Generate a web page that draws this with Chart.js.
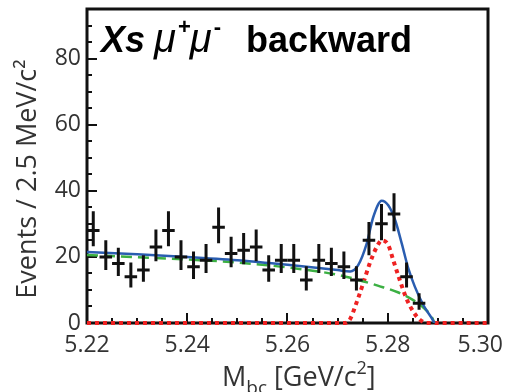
<!DOCTYPE html>
<html>
<head>
<meta charset="utf-8">
<script src="https://cdn.jsdelivr.net/npm/chart.js@4.4.0/dist/chart.umd.min.js"></script>
<style>
body{margin:0;background:#fff;}
</style>
</head>
<body>
<canvas id="graf" width="506" height="392"></canvas>
<script>
// Mbc bin centres (2.5 MeV bins) and event counts
var mbc = [5.22125,5.22375,5.22625,5.22875,5.23125,5.23375,5.23625,5.23875,5.24125,5.24375,
           5.24625,5.24875,5.25125,5.25375,5.25625,5.25875,5.26125,5.26375,5.26625,5.26875,
           5.27125,5.27375,5.27625,5.27875,5.28125,5.28375,5.28625];
var events = [28,20,18,14,16,23,28,20,17,19,
              29,21,22,23,16,19,19,13,19,18,
              17,13,25,30,33,14,6];
var binHalf = 0.00125;

// total fit (blue)
var fitX = [5.22,5.23,5.24,5.25,5.26,5.27,5.2725,5.2741,5.2758,5.2771,5.2788,5.2801,5.2815,5.2828,5.2841,5.2854,5.2871,5.2888,5.2893];
var fitY = [21.5,20.8,20.0,19.0,17.6,16.0,15.6,17.5,24,32,37,35.6,31,24,16.5,11,5.4,1.4,0];

// background (green dashed)
var bkgX = [5.22,5.23,5.24,5.25,5.26,5.27,5.274,5.278,5.282,5.285,5.2872,5.2888,5.2893];
var bkgY = [20.6,19.9,19.2,18.3,16.8,14.6,13.1,11.3,9.3,7,4.5,1.8,0];

// signal (red dotted)
var sigX = [5.22,5.2715,5.2725,5.2735,5.2751,5.2764,5.2778,5.2788,5.2801,5.2811,5.2824,5.2837,5.2851,5.2864,5.2878,5.30];
var sigY = [0,0,1.2,5,12,18,23,25,23.6,19,13,7.5,3.4,1,0,0];

var xTicks = [5.22,5.24,5.26,5.28,5.30];
var yTicks = [0,20,40,60,80];

function pts(xs, ys){
    return xs.map(function(x,i){ return {x:x, y:ys[i]}; });
}

var framePlugin = {
    id:'frame',
    beforeDatasetsDraw:function(chart){
        var c = chart.ctx, a = chart.chartArea;
        var xs = chart.scales.x, ys = chart.scales.y;
        c.save();
        c.strokeStyle = '#111';
        c.lineWidth = 2;
        // minor + major ticks, pointing inwards
        for(var v=5.22; v<=5.3001; v+=0.005){
            var px = Math.round(xs.getPixelForValue(v));
            var major = Math.abs((v-5.22)/0.02 - Math.round((v-5.22)/0.02)) < 1e-6;
            c.beginPath();
            c.moveTo(px, a.bottom);
            c.lineTo(px, a.bottom - (major?10:5));
            c.stroke();
        }
        for(var w=0; w<=95; w+=5){
            var py = Math.round(ys.getPixelForValue(w));
            c.beginPath();
            c.moveTo(a.left, py);
            c.lineTo(a.left + (w%20===0?10:5), py);
            c.stroke();
        }
        c.lineWidth = 3;
        c.strokeRect(a.left, a.top, a.right-a.left, a.bottom-a.top);
        c.restore();
    },
    afterDatasetsDraw:function(chart){
        var c = chart.ctx;
        var xs = chart.scales.x, ys = chart.scales.y;
        c.save();
        c.strokeStyle = '#111';
        c.lineWidth = 3;
        for(var i=0;i<mbc.length;i++){
            var n = events[i];
            var up = 0.5 + Math.sqrt(n+0.25), dn = -0.5 + Math.sqrt(n+0.25);
            var px = xs.getPixelForValue(mbc[i]);
            var py = ys.getPixelForValue(n);
            c.beginPath();
            c.moveTo(px, ys.getPixelForValue(n+up));
            c.lineTo(px, ys.getPixelForValue(n-dn));
            c.moveTo(xs.getPixelForValue(mbc[i]-binHalf), py);
            c.lineTo(xs.getPixelForValue(mbc[i]+binHalf), py);
            c.stroke();
        }
        c.restore();
    },
    afterDraw:function(chart){
        var c = chart.ctx;
        var xs = chart.scales.x;
        c.save();
        // x tick labels, last one kept inside the canvas
        c.fillStyle = '#333';
        c.font = '23px "Open Sans"';
        c.textBaseline = 'alphabetic';
        c.textAlign = 'left';
        xTicks.forEach(function(v){
            var s = v.toFixed(2);
            var wd = c.measureText(s).width;
            var lx = xs.getPixelForValue(v) - wd/2;
            if(lx + wd > 503) lx = 503 - wd;
            c.fillText(s, lx, 352);
        });

        c.fillStyle = '#000';
        var x = 101, base = 52;
        c.font = 'italic bold 36px "Liberation Sans"';
        c.fillText('Xs', x, base);
        x = 154;
        c.font = 'italic 40px "Liberation Sans"';
        c.fillText('\u03bc', x, base); x += c.measureText('\u03bc').width + 2;
        c.font = 'bold 22px "Liberation Sans"';
        c.fillText('+', x, base-18); x += c.measureText('+').width - 1;
        c.font = 'italic 40px "Liberation Sans"';
        c.fillText('\u03bc', x, base); x += c.measureText('\u03bc').width + 2;
        c.font = 'bold 22px "Liberation Sans"';
        c.fillText('-', x, base-18);
        c.font = 'bold 36px "Liberation Sans"';
        c.fillText('backward', 246, base);

        // axis titles
        c.fillStyle = '#333';
        c.font = '27px "Open Sans"';
        var xx = 222, yb = 386;
        c.fillText('M', xx, yb); xx += c.measureText('M').width;
        c.font = '19px "Open Sans"';
        c.fillText('bc', xx, yb+8); xx += c.measureText('bc').width;
        c.font = '27px "Open Sans"';
        c.fillText(' [GeV/c', xx, yb); xx += c.measureText(' [GeV/c').width;
        c.font = '18px "Open Sans"';
        c.fillText('2', xx, yb-12); xx += c.measureText('2').width;
        c.font = '27px "Open Sans"';
        c.fillText(']', xx, yb);

        c.translate(36, 179);
        c.rotate(-Math.PI/2);
        c.textAlign = 'center';
        c.font = '27px "Open Sans"';
        c.fillText('Events / 2.5 MeV/c\u00b2', 0, 0);
        c.restore();
    }
};

var graf = new Chart(document.getElementById('graf'), {
    type:'scatter',
    data:{
        datasets:[
            {
                label:'fit',
                data:pts(fitX, fitY),
                showLine:true,
                borderColor:'#2a5db0',
                borderWidth:2.5,
                pointRadius:0,
                cubicInterpolationMode:'monotone',
                order:1
            },
            {
                label:'background',
                data:pts(bkgX, bkgY),
                showLine:true,
                borderColor:'#3cb043',
                borderWidth:2.5,
                borderDash:[11,6],
                pointRadius:0,
                cubicInterpolationMode:'monotone',
                order:2
            },
            {
                label:'signal',
                data:pts(sigX, sigY),
                showLine:true,
                borderColor:'#ee2222',
                borderWidth:4,
                borderDash:[4,4],
                pointRadius:0,
                cubicInterpolationMode:'monotone',
                clip:false,
                order:3
            }
        ]
    },
    options:{
        responsive:false,
        animation:false,
        layout:{padding:{left:0, top:9, right:18, bottom:0}},
        plugins:{legend:{display:false}, tooltip:{enabled:false}},
        scales:{
            x:{
                type:'linear',
                min:5.22, max:5.30,
                grid:{display:false, drawTicks:false},
                border:{display:false},
                afterBuildTicks:function(s){ s.ticks = xTicks.map(function(v){return {value:v};}); },
                afterFit:function(s){ s.height = 69; s.paddingLeft = 0; s.paddingRight = 0; },
                ticks:{display:false}
            },
            y:{
                type:'linear',
                min:0, max:95,
                grid:{display:false, drawTicks:false},
                border:{display:false},
                afterBuildTicks:function(s){ s.ticks = yTicks.map(function(v){return {value:v};}); },
                afterFit:function(s){ s.width = 87; s.paddingTop = 0; s.paddingBottom = 0; },
                ticks:{
                    padding:6,
                    color:'#333',
                    font:{family:'Open Sans', size:23}
                }
            }
        }
    },
    plugins:[framePlugin]
});
</script>
</body>
</html>
